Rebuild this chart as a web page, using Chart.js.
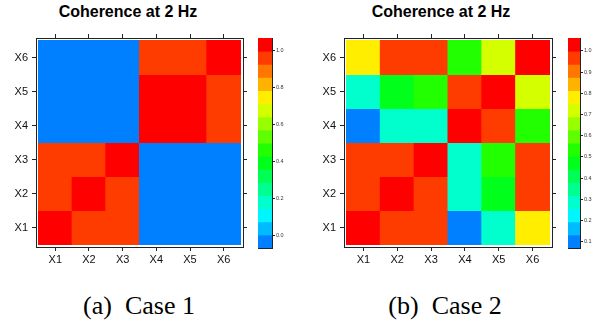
<!DOCTYPE html>
<html><head><meta charset="utf-8">
<script src="https://cdn.jsdelivr.net/npm/chart.js@4"></script>
<style>
html,body{margin:0;padding:0;background:#fff;width:594px;height:334px;overflow:hidden}
canvas{position:absolute}
.title{position:absolute;font:bold 16px "Liberation Sans",Arial,sans-serif;color:#000;white-space:nowrap;transform:translateX(-50%);line-height:1}
.cap{position:absolute;font:26px "Liberation Serif","Times New Roman",serif;color:#000;white-space:nowrap;transform:translateX(-50%);line-height:1}
</style></head><body>
<div class="title" style="left:128px;top:4px">Coherence at 2 Hz</div>
<div class="title" style="left:441px;top:4px">Coherence at 2 Hz</div>
<canvas id="h1" width="255" height="240" style="left:0;top:30px"></canvas>
<canvas id="b1" width="44" height="230" style="left:250px;top:30px"></canvas>
<canvas id="h2" width="264" height="240" style="left:300px;top:30px"></canvas>
<canvas id="b2" width="34" height="230" style="left:560px;top:30px"></canvas>
<div class="cap" style="left:139px;top:293px">(a)&nbsp; Case 1</div>
<div class="cap" style="left:445px;top:293px">(b)&nbsp; Case 2</div>
<script>
// ---- data ----
const categories = ['X1','X2','X3','X4','X5','X6'];
// rows: y = X1 .. X6 ; columns: x = X1 .. X6
const case1 = [
  [1.00, 0.97, 0.97, 0.00, 0.00, 0.00],
  [0.97, 1.00, 0.97, 0.00, 0.00, 0.00],
  [0.97, 0.97, 1.00, 0.00, 0.00, 0.00],
  [0.00, 0.00, 0.00, 1.00, 1.00, 0.97],
  [0.00, 0.00, 0.00, 1.00, 1.00, 0.97],
  [0.00, 0.00, 0.00, 0.97, 0.97, 1.00]
];
const case2 = [
  [1.00, 0.97, 0.97, 0.131, 0.29, 0.78],
  [0.97, 1.00, 0.97, 0.29, 0.47, 0.97],
  [0.97, 0.97, 1.00, 0.29, 0.53, 0.97],
  [0.131, 0.29, 0.29, 1.00, 0.97, 0.53],
  [0.29, 0.47, 0.53, 0.97, 1.00, 0.72],
  [0.78, 0.97, 0.97, 0.53, 0.72, 1.00]
];
// colour levels (low -> high)
const palette = ['#0080FF','#00BBFF','#00F6FF','#00FFCC','#00FF91','#00FF55','#00FF1A','#22FF00',
                 '#5EFF00','#99FF00','#D4FF00','#FFEE00','#FFB300','#FF7700','#FF3C00','#FF0000'];
const breaks1 = [-0.07, 0.00125, 0.0725, 0.14375, 0.215, 0.28625, 0.3575, 0.42875, 0.5,
                 0.57125, 0.6425, 0.71375, 0.785, 0.85625, 0.9275, 0.99875, 1.07];
const breaks2 = [0.0702, 0.1321, 0.1940, 0.2559, 0.3178, 0.3798, 0.4417, 0.5036, 0.5655,
                 0.6274, 0.6893, 0.7512, 0.8131, 0.8751, 0.9370, 0.9989, 1.0608];
const cbarTicks1 = [0.0, 0.2, 0.4, 0.6, 0.8, 1.0];
const cbarTicks2 = [0.1, 0.2, 0.3, 0.4, 0.5, 0.6, 0.7, 0.8, 0.9, 1.0];

// ---- helpers ----
const FONT = '"Liberation Sans", Arial, sans-serif';
const INK = '#222';
function colorFor(v, br) {
  for (let k = 0; k < palette.length; k++) {
    if (v < br[k + 1]) return palette[k];
  }
  return palette[palette.length - 1];
}
function fixW(w) { return s => { s.width = w; }; }
function fixH(h) { return s => { s.height = h; }; }
const catTicks = s => { s.ticks = categories.map((_, i) => ({ value: i + 1 })); };
const PAD = 0.074;

function heatChart(id, matrix, breaks, leftW, rightW) {
  const pts = [];
  matrix.forEach((row, r) => row.forEach((v, c) => pts.push({ x: c + 1, y: [r + 0.5, r + 1.5], v })));
  const axisBase = (pos, shown, fit, vertical) => ({
    type: 'linear', position: pos, offset: false,
    min: 0.5 - PAD, max: categories.length + 0.5 + PAD,
    afterBuildTicks: catTicks,
    ticks: { display: shown, callback: v => categories[Math.round(v) - 1],
             font: { family: FONT, size: 11, lineHeight: vertical ? 0.7 : 1.2 }, color: '#111',
             padding: vertical ? 4 : 2, autoSkip: false, maxRotation: 0 },
    grid: { offset: false, drawOnChartArea: false, drawTicks: true, tickLength: 4, color: INK },
    border: { display: true, color: INK, width: 1 },
    afterFit: fit
  });
  return new Chart(document.getElementById(id), {
    type: 'bar',
    data: { datasets: [{ data: pts, backgroundColor: ctx => colorFor(ctx.raw.v, breaks),
                         borderWidth: 0, inflateAmount: 0.5, barPercentage: 1, categoryPercentage: 1 }] },
    options: {
      responsive: false, animation: false, devicePixelRatio: 1,
      layout: { padding: 0 },
      plugins: { legend: { display: false }, tooltip: { enabled: false } },
      scales: {
        x: axisBase('bottom', true, fixH(23), false),
        x2: Object.assign(axisBase('top', false, fixH(8), false), { axis: 'x' }),
        y: axisBase('left', true, fixW(leftW), true),
        y2: Object.assign(axisBase('right', false, fixW(rightW), true), { axis: 'y' })
      }
    }
  });
}

function cbarChart(id, breaks, ticks, rightW) {
  const pts = palette.map((c, k) => ({ x: 1, y: [breaks[k], breaks[k + 1]] }));
  const frameX = (pos, h) => ({
    type: 'linear', position: pos, axis: 'x', min: 0.5, max: 1.5, offset: false,
    afterBuildTicks: s => { s.ticks = [{ value: 1 }]; },
    ticks: { display: false }, grid: { display: false, offset: false },
    border: { display: true, color: INK, width: 1 }, afterFit: fixH(h)
  });
  return new Chart(document.getElementById(id), {
    type: 'bar',
    data: { datasets: [{ data: pts, backgroundColor: palette, borderWidth: 0, inflateAmount: 0.5,
                         barPercentage: 1, categoryPercentage: 1 }] },
    options: {
      responsive: false, animation: false, devicePixelRatio: 1,
      layout: { padding: 0 },
      plugins: { legend: { display: false }, tooltip: { enabled: false } },
      scales: {
        x: frameX('bottom', 12),
        x2: frameX('top', 8),
        y: {
          type: 'linear', position: 'right', min: breaks[0], max: breaks[breaks.length - 1],
          afterBuildTicks: s => { s.ticks = ticks.map(v => ({ value: v })); },
          ticks: { callback: v => v.toFixed(1), font: { family: FONT, size: 5.5 }, color: '#333', padding: 1 },
          grid: { drawOnChartArea: false, drawTicks: true, tickLength: 3, color: INK },
          border: { display: true, color: INK, width: 1 }, afterFit: fixW(rightW)
        },
        y2: {
          type: 'linear', position: 'left', axis: 'y', min: breaks[0], max: breaks[breaks.length - 1],
          ticks: { display: false }, grid: { display: false },
          border: { display: true, color: INK, width: 1 }, afterFit: fixW(8)
        }
      }
    }
  });
}

heatChart('h1', case1, breaks1, 36, 12);
cbarChart('b1', breaks1, cbarTicks1, 22);
heatChart('h2', case2, breaks2, 44, 12);
cbarChart('b2', breaks2, cbarTicks2, 14);
</script>
</body></html>
